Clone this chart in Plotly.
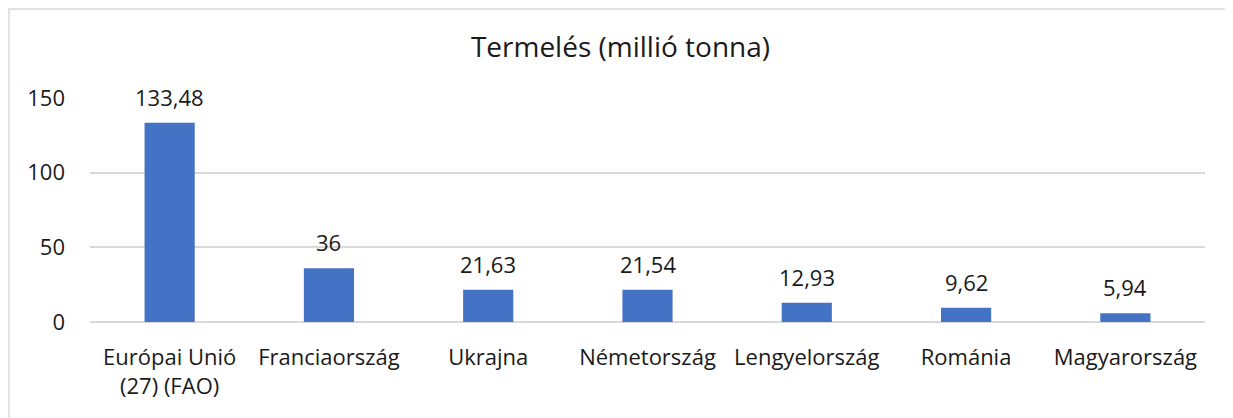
import plotly.graph_objects as go

categories = ["Európai Unió<br>(27) (FAO)", "Franciaország", "Ukrajna", "Németország",
              "Lengyelország", "Románia", "Magyarország"]
values = [133.48, 36, 21.63, 21.54, 12.93, 9.62, 5.94]
labels = ["133,48", "36", "21,63", "21,54", "12,93", "9,62", "5,94"]
y_ticks = [0, 50, 100, 150]

FONT = "Open Sans"
TXT = "#1a1a1a"
W, H = 1225, 410          # page body has an 8px margin
L, R, T, B = 82, 1197, 90, 314  # plot area in figure coords

fig = go.Figure(go.Bar(
    x=categories, y=values,
    marker=dict(color="#4472C4", line=dict(width=0)),
    width=0.315,
    hoverinfo="skip",
))

for c, v, t in zip(categories, values, labels):
    fig.add_annotation(x=c, y=v, text=t, showarrow=False, yanchor="bottom",
                       yshift=9, font=dict(family=FONT, size=22, color=TXT))

pw, ph = R - L, B - T
fig.add_shape(type="rect", xref="paper", yref="paper",
              x0=(1 - L) / pw, x1=(1221 - L) / pw,
              y0=(B - 430) / ph, y1=(B - 1) / ph,
              line=dict(color="#d9d9d9", width=1.5), layer="below")

fig.update_layout(
    width=W, height=H,
    margin=dict(l=L, r=W - R, t=T, b=H - B, autoexpand=False),
    paper_bgcolor="white", plot_bgcolor="white",
    title=dict(text="Termelés (millió tonna)", x=0.5, xanchor="center",
               y=1 - 39 / H, yanchor="middle",
               font=dict(family=FONT, size=28, color=TXT)),
    font=dict(family=FONT, size=22, color=TXT),
    showlegend=False,
    xaxis=dict(showgrid=False, showline=False, ticks="", ticklabelstandoff=20,
               tickfont=dict(size=22, color=TXT)),
    yaxis=dict(range=[0, 150], tickvals=y_ticks, showgrid=True, gridcolor="#d9d9d9",
               gridwidth=1.5, zeroline=True, zerolinecolor="#d9d9d9", zerolinewidth=1.5,
               showline=False, ticks="", ticklabelstandoff=24,
               tickfont=dict(size=22, color=TXT)),
)

fig.write_html("out.html")
